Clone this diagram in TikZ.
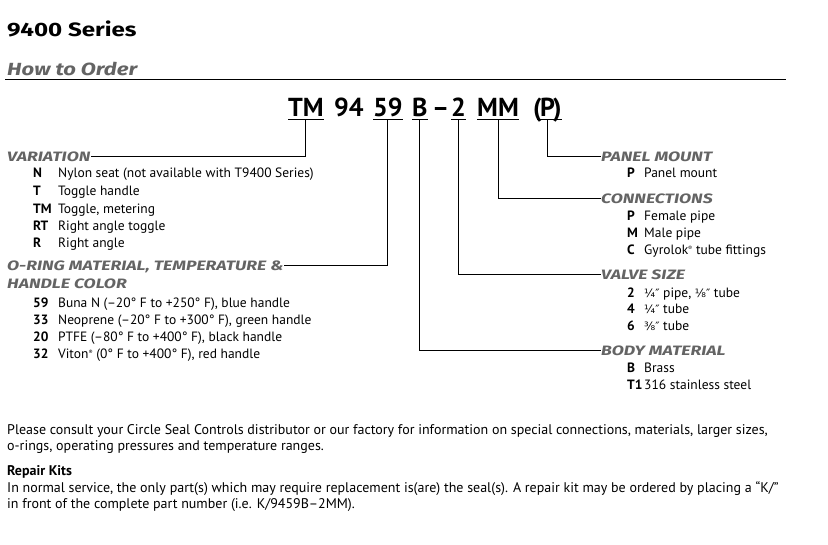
\documentclass[tikz,border=0pt]{standalone}
\usepackage{fontspec}
\setmainfont{PT Sans}
\newfontfamily\headfont[FakeStretch=1.25]{Fira Sans}
\newfontfamily\groupfont[FakeStretch=1.3]{Fira Sans}
\newfontfamily\fracfont[Scale=0.85]{DejaVu Sans}
\definecolor{headgray}{RGB}{100,100,100}
\newcommand{\regmark}{\raisebox{3.5pt}{\fontsize{6}{6}\selectfont ®}}
\newcommand{\lkey}[1]{\makebox[25pt][l]{\bfseries #1}}
\newcommand{\rkey}[1]{\makebox[17pt][l]{\bfseries #1}}
\newcommand{\fr}[1]{{\fracfont #1}}
\tikzset{
  pnum/.style={font=\fontsize{26}{26}\selectfont\bfseries, inner xsep=0pt, inner ysep=2.3pt, text depth=0pt, anchor=base west},
  grouphead/.style={font=\groupfont\fontsize{13.6}{14}\selectfont\bfseries\itshape, text=headgray, inner sep=0pt, text depth=0pt, anchor=base west},
  entry/.style={font=\fontsize{13.5}{16}\selectfont, inner sep=0pt, anchor=base west},
  note/.style={font=\fontsize{14}{16}\selectfont, inner sep=0pt, anchor=base west},
  leader/.style={line width=1pt},
}
\begin{document}
\begin{tikzpicture}[x=1pt, y=-1pt]
\useasboundingbox (0,0) rectangle (828,544);
% title
\node[font=\headfont\fontsize{19.3}{20}\selectfont\bfseries, inner sep=0pt, anchor=base west] (title) at (7,36.7) {9400 Series};
\node[font=\headfont\fontsize{17.6}{18}\selectfont\bfseries\itshape, text=headgray, inner sep=0pt, anchor=base west] (subtitle) at (7,75.7) {How to Order};
\draw[line width=0.8pt] (5,79.5) -- (786,79.5);
% part number
\node[pnum] (pnTM) at (288,116.7) {TM};
\node[pnum] (pn94) at (334,116.7) {94};
\node[pnum] (pn59) at (373,116.7) {59};
\node[pnum] (pnB) at (412,116.7) {B};
\node[pnum] (pnDash) at (432,116.7) {–};
\node[pnum] (pn2) at (451,116.7) {2};
\node[pnum] (pnMM) at (477,116.7) {MM};
\node[pnum] (pnOpen) at (533,116.7) {(};
\node[pnum] (pnP) at (540,116.7) {P};
\node[pnum] (pnClose) at (553,116.7) {)};
\foreach \n in {TM,59,B,2,MM}
  \draw[leader] (pn\n.south west) -- (pn\n.south east);
\draw[leader] ([xshift=-3pt]pnP.south west) -- (pnClose.south east);
% left groups
\node[grouphead] (hVar) at (7,161) {VARIATION};
\node[entry] (varN) at (33,177) {\lkey{N}Nylon seat (not available with T9400 Series)};
\node[entry] (varT) at (33,195) {\lkey{T}Toggle handle};
\node[entry] (varTM) at (33,213) {\lkey{TM}Toggle, metering};
\node[entry] (varRT) at (33,230) {\lkey{RT}Right angle toggle};
\node[entry] (varR) at (33,247) {\lkey{R}Right angle};
\node[grouphead] (hOring) at (7,270) {O-RING MATERIAL, TEMPERATURE \&};
\node[grouphead] (hOring2) at (7,288) {HANDLE COLOR};
\node[entry] (ring59) at (33,307) {\lkey{59}Buna N (–20° F to +250° F), blue handle};
\node[entry] (ring33) at (33,324) {\lkey{33}Neoprene (–20° F to +300° F), green handle};
\node[entry] (ring20) at (33,341) {\lkey{20}PTFE (–80° F to +400° F), black handle};
\node[entry] (ring32) at (33,358) {\lkey{32}Viton\regmark\ (0° F to +400° F), red handle};
% right groups
\node[grouphead] (hPanel) at (601,161) {PANEL MOUNT};
\node[entry] (panP) at (627,177) {\rkey{P}Panel mount};
\node[grouphead] (hConn) at (601,203) {CONNECTIONS};
\node[entry] (conP) at (627,220) {\rkey{P}Female pipe};
\node[entry] (conM) at (627,237) {\rkey{M}Male pipe};
\node[entry] (conC) at (627,254) {\rkey{C}Gyrolok\regmark\ tube fittings};
\node[grouphead] (hSize) at (601,279) {VALVE SIZE};
\node[entry] (size2) at (627,297) {\rkey{2}\fr{¼″} pipe, \fr{⅛″} tube};
\node[entry] (size4) at (627,313) {\rkey{4}\fr{¼″} tube};
\node[entry] (size6) at (627,330) {\rkey{6}\fr{⅜″} tube};
\node[grouphead] (hBody) at (601,355) {BODY MATERIAL};
\node[entry] (bodyB) at (627,372) {\rkey{B}Brass};
\node[entry] (bodyT1) at (627,389) {\rkey{T1}316 stainless steel};
% leaders
\draw[leader] (pnTM.south) |- (hVar.east);
\draw[leader] (pn59.south) |- (hOring.east);
\draw[leader] (pnB.south) |- (hBody.west);
\draw[leader] (pn2.south) |- (hSize.west);
\draw[leader] (pnMM.south) |- (hConn.west);
\draw[leader] (pnP.south) |- (hPanel.west);
% notes
\node[note] (note1) at (7,434) {Please consult your Circle Seal Controls distributor or our factory for information on special connections, materials, larger sizes,};
\node[note] (note2) at (7,450) {o-rings, operating pressures and temperature ranges.};
\node[note, font=\fontsize{14}{16}\selectfont\bfseries] (kitHead) at (7,475) {Repair Kits};
\node[note] (kit1) at (7,492) {In normal service, the only part(s) which may require replacement is(are) the seal(s). A repair kit may be ordered by placing a “K/”};
\node[note] (kit2) at (7,508) {in front of the complete part number (i.e. K/9459B–2MM).};
\end{tikzpicture}
\end{document}
